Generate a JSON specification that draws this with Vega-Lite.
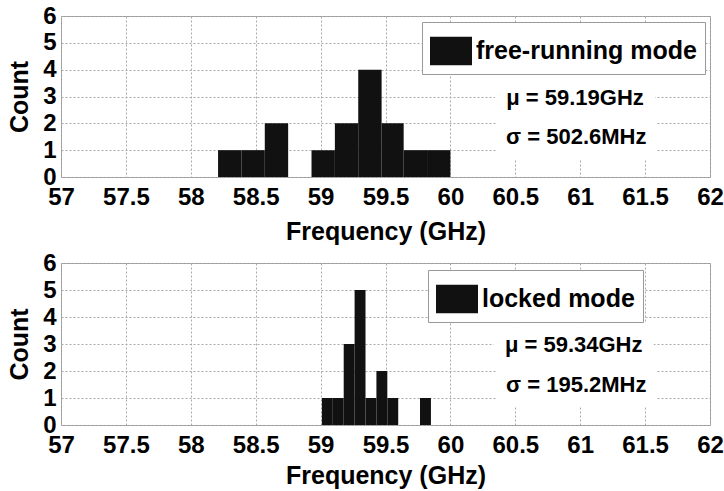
{
  "$schema": "https://vega.github.io/schema/vega-lite/v6.json",
  "background": "white",
  "autosize": {"type": "pad"},
  "padding": {"left": 7, "top": 3, "right": 10, "bottom": 0},
  "spacing": 5,
  "datasets": {
    "bars": [
      {"panel": "free", "mode": "free-running mode", "bin_start": 58.21, "bin_end": 58.39, "count": 1},
      {"panel": "free", "mode": "free-running mode", "bin_start": 58.39, "bin_end": 58.57, "count": 1},
      {"panel": "free", "mode": "free-running mode", "bin_start": 58.57, "bin_end": 58.75, "count": 2},
      {"panel": "free", "mode": "free-running mode", "bin_start": 58.75, "bin_end": 58.93, "count": 0},
      {"panel": "free", "mode": "free-running mode", "bin_start": 58.93, "bin_end": 59.11, "count": 1},
      {"panel": "free", "mode": "free-running mode", "bin_start": 59.11, "bin_end": 59.29, "count": 2},
      {"panel": "free", "mode": "free-running mode", "bin_start": 59.29, "bin_end": 59.47, "count": 4},
      {"panel": "free", "mode": "free-running mode", "bin_start": 59.47, "bin_end": 59.64, "count": 2},
      {"panel": "free", "mode": "free-running mode", "bin_start": 59.64, "bin_end": 59.82, "count": 1},
      {"panel": "free", "mode": "free-running mode", "bin_start": 59.82, "bin_end": 60.0, "count": 1},
      {"panel": "locked", "mode": "locked mode", "bin_start": 59.01, "bin_end": 59.094, "count": 1},
      {"panel": "locked", "mode": "locked mode", "bin_start": 59.094, "bin_end": 59.178, "count": 1},
      {"panel": "locked", "mode": "locked mode", "bin_start": 59.178, "bin_end": 59.262, "count": 3},
      {"panel": "locked", "mode": "locked mode", "bin_start": 59.262, "bin_end": 59.346, "count": 5},
      {"panel": "locked", "mode": "locked mode", "bin_start": 59.346, "bin_end": 59.43, "count": 1},
      {"panel": "locked", "mode": "locked mode", "bin_start": 59.43, "bin_end": 59.514, "count": 2},
      {"panel": "locked", "mode": "locked mode", "bin_start": 59.514, "bin_end": 59.598, "count": 1},
      {"panel": "locked", "mode": "locked mode", "bin_start": 59.598, "bin_end": 59.682, "count": 0},
      {"panel": "locked", "mode": "locked mode", "bin_start": 59.682, "bin_end": 59.766, "count": 0},
      {"panel": "locked", "mode": "locked mode", "bin_start": 59.766, "bin_end": 59.85, "count": 1}
    ],
    "notes": [
      {"panel": "free", "label": "μ = 59.19GHz", "freq": 60.96, "count": 2.95},
      {"panel": "free", "label": "σ = 502.6MHz", "freq": 60.97, "count": 1.5},
      {"panel": "locked", "label": "μ = 59.34GHz", "freq": 60.95, "count": 2.95},
      {"panel": "locked", "label": "σ = 195.2MHz", "freq": 60.97, "count": 1.48}
    ]
  },
  "config": {
    "font": "Liberation Sans",
    "view": {"stroke": "#999999", "strokeWidth": 1},
    "axis": {
      "labelFont": "Liberation Sans",
      "labelFontSize": 24,
      "labelFontWeight": "bold",
      "labelColor": "#000000",
      "labelOverlap": false,
      "labelFlush": false,
      "titleFont": "Liberation Sans",
      "titleFontSize": 25,
      "titleFontWeight": "bold",
      "titleColor": "#000000",
      "ticks": false,
      "domain": false,
      "grid": true,
      "gridColor": "#aaaaaa",
      "gridDash": [2, 2],
      "gridWidth": 1,
      "labelPadding": 8
    },
    "legend": {
      "labelFont": "Liberation Sans",
      "labelFontSize": 25,
      "labelFontWeight": "bold",
      "labelColor": "#000000",
      "labelLimit": 400,
      "labelOffset": 4,
      "padding": 8,
      "strokeColor": "#999999",
      "fillColor": "#ffffff",
      "symbolType": "M-1,-0.68H1V0.68H-1Z",
      "symbolSize": 1764,
      "symbolStrokeWidth": 0,
      "symbolOpacity": 1
    }
  },
  "resolve": {"scale": {"color": "independent"}, "legend": {"color": "independent"}},
  "vconcat": [
    {
      "width": 649,
      "height": 161,
      "layer": [
        {
          "data": {"name": "bars"},
          "transform": [{"filter": "datum.panel == 'free'"}],
          "mark": {"type": "rect"},
          "encoding": {
            "x": {"field": "bin_start", "type": "quantitative", "scale": {"domain": [57, 62], "nice": false, "zero": false},
                  "axis": {"values": [57, 57.5, 58, 58.5, 59, 59.5, 60, 60.5, 61, 61.5, 62], "format": "~g", "title": "Frequency (GHz)", "titlePadding": 10}},
            "x2": {"field": "bin_end"},
            "y": {"field": "count", "type": "quantitative", "scale": {"domain": [0, 6], "nice": false},
                  "axis": {"values": [0, 1, 2, 3, 4, 5, 6], "format": "d", "title": "Count", "titlePadding": 10, "labelPadding": 5}},
            "y2": {"datum": 0},
            "color": {"field": "mode", "type": "nominal", "scale": {"range": ["#111111"]},
                      "legend": {"orient": "none", "legendX": 361, "legendY": 6, "title": null}}
          }
        },
        {
          "data": {"name": "notes"},
          "transform": [{"filter": "datum.panel == 'free'"}],
          "mark": {"type": "rect", "width": 160, "height": 44, "fill": "#ffffff", "stroke": null},
          "encoding": {
            "x": {"field": "freq", "type": "quantitative", "scale": {"domain": [57, 62], "nice": false, "zero": false},
                  "axis": {"values": [57, 57.5, 58, 58.5, 59, 59.5, 60, 60.5, 61, 61.5, 62], "format": "~g", "title": "Frequency (GHz)", "titlePadding": 10}},
            "y": {"field": "count", "type": "quantitative", "scale": {"domain": [0, 6], "nice": false},
                  "axis": {"values": [0, 1, 2, 3, 4, 5, 6], "format": "d", "title": "Count", "titlePadding": 10, "labelPadding": 5}}
          }
        },
        {
          "data": {"name": "notes"},
          "transform": [{"filter": "datum.panel == 'free'"}],
          "mark": {"type": "text", "font": "Liberation Sans", "fontSize": 22, "fontWeight": "bold", "align": "center", "baseline": "middle", "color": "#000000"},
          "encoding": {
            "x": {"field": "freq", "type": "quantitative", "scale": {"domain": [57, 62], "nice": false, "zero": false},
                  "axis": {"values": [57, 57.5, 58, 58.5, 59, 59.5, 60, 60.5, 61, 61.5, 62], "format": "~g", "title": "Frequency (GHz)", "titlePadding": 10}},
            "y": {"field": "count", "type": "quantitative", "scale": {"domain": [0, 6], "nice": false},
                  "axis": {"values": [0, 1, 2, 3, 4, 5, 6], "format": "d", "title": "Count", "titlePadding": 10, "labelPadding": 5}},
            "text": {"field": "label"}
          }
        }
      ]
    },
    {
      "width": 649,
      "height": 162,
      "layer": [
        {
          "data": {"name": "bars"},
          "transform": [{"filter": "datum.panel == 'locked'"}],
          "mark": {"type": "rect"},
          "encoding": {
            "x": {"field": "bin_start", "type": "quantitative", "scale": {"domain": [57, 62], "nice": false, "zero": false},
                  "axis": {"values": [57, 57.5, 58, 58.5, 59, 59.5, 60, 60.5, 61, 61.5, 62], "format": "~g", "title": "Frequency (GHz)", "titlePadding": 6, "labelPadding": 8}},
            "x2": {"field": "bin_end"},
            "y": {"field": "count", "type": "quantitative", "scale": {"domain": [0, 6], "nice": false},
                  "axis": {"values": [0, 1, 2, 3, 4, 5, 6], "format": "d", "title": "Count", "titlePadding": 10, "labelPadding": 5}},
            "y2": {"datum": 0},
            "color": {"field": "mode", "type": "nominal", "scale": {"range": ["#111111"]},
                      "legend": {"orient": "none", "legendX": 367, "legendY": 7, "title": null}}
          }
        },
        {
          "data": {"name": "notes"},
          "transform": [{"filter": "datum.panel == 'locked'"}],
          "mark": {"type": "rect", "width": 160, "height": 44, "fill": "#ffffff", "stroke": null},
          "encoding": {
            "x": {"field": "freq", "type": "quantitative", "scale": {"domain": [57, 62], "nice": false, "zero": false},
                  "axis": {"values": [57, 57.5, 58, 58.5, 59, 59.5, 60, 60.5, 61, 61.5, 62], "format": "~g", "title": "Frequency (GHz)", "titlePadding": 6, "labelPadding": 8}},
            "y": {"field": "count", "type": "quantitative", "scale": {"domain": [0, 6], "nice": false},
                  "axis": {"values": [0, 1, 2, 3, 4, 5, 6], "format": "d", "title": "Count", "titlePadding": 10, "labelPadding": 5}}
          }
        },
        {
          "data": {"name": "notes"},
          "transform": [{"filter": "datum.panel == 'locked'"}],
          "mark": {"type": "text", "font": "Liberation Sans", "fontSize": 22, "fontWeight": "bold", "align": "center", "baseline": "middle", "color": "#000000"},
          "encoding": {
            "x": {"field": "freq", "type": "quantitative", "scale": {"domain": [57, 62], "nice": false, "zero": false},
                  "axis": {"values": [57, 57.5, 58, 58.5, 59, 59.5, 60, 60.5, 61, 61.5, 62], "format": "~g", "title": "Frequency (GHz)", "titlePadding": 6, "labelPadding": 8}},
            "y": {"field": "count", "type": "quantitative", "scale": {"domain": [0, 6], "nice": false},
                  "axis": {"values": [0, 1, 2, 3, 4, 5, 6], "format": "d", "title": "Count", "titlePadding": 10, "labelPadding": 5}},
            "text": {"field": "label"}
          }
        }
      ]
    }
  ]
}
